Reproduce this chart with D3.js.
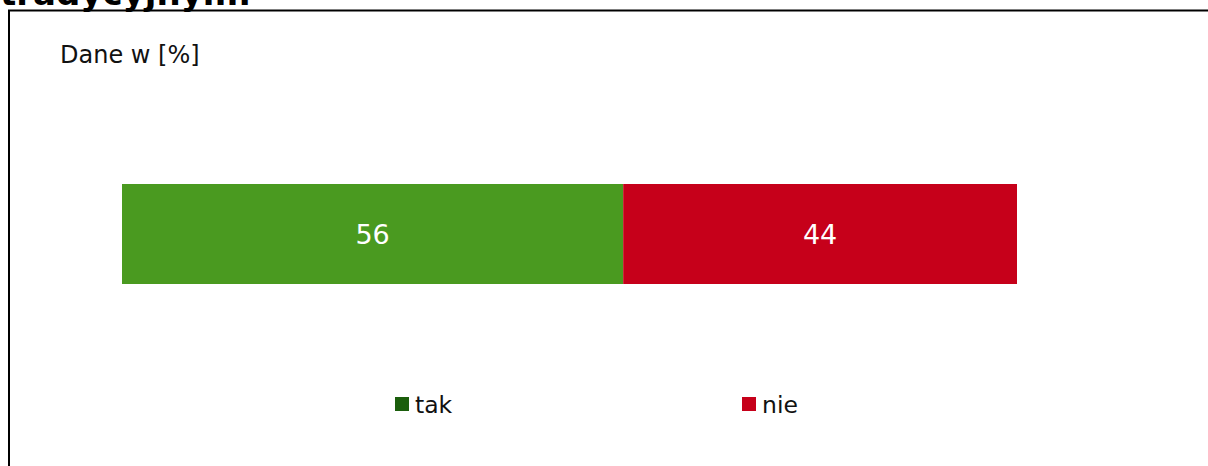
<!DOCTYPE html>
<html>
<head>
<meta charset="utf-8">
<script src="https://cdn.jsdelivr.net/npm/d3@7"></script>
<style>
  body { margin: 0; background: #fff; }
  svg { display: block; font-family: "DejaVu Sans", Verdana, sans-serif; }
</style>
</head>
<body>
<div id="chart"></div>
<script>
const width = 1208;
const height = 466;

const titleText = "tradycyjnym.";
const unitText = "Dane w [%]";
const categories = ["tak", "nie"];
const values = [56, 44];
const barColors = ["#4a9a20", "#c6001a"];
const legendColors = ["#1b5e0c", "#c6001a"];

const svg = d3.select("#chart").append("svg")
    .attr("width", width)
    .attr("height", height);

// title, cut at the top like in the source
svg.append("text")
    .attr("x", 0)
    .attr("y", 5)
    .attr("font-size", "34px")
    .attr("font-weight", "bold")
    .attr("fill", "#000")
    .text(titleText);

// frame
svg.append("rect")
    .attr("x", 9)
    .attr("y", 10.5)
    .attr("width", width + 20)
    .attr("height", height + 20)
    .attr("fill", "none")
    .attr("stroke", "#000")
    .attr("stroke-width", 2);

svg.append("text")
    .attr("x", 60)
    .attr("y", 63)
    .attr("font-size", "24px")
    .attr("fill", "#111")
    .text(unitText);

const x = d3.scaleLinear()
    .domain([0, d3.sum(values)])
    .range([122, 1017]);

const stacked = [];
let acc = 0;
values.forEach((v, i) => {
    stacked.push({ cat: categories[i], v: v, x0: acc, x1: acc + v, i: i });
    acc += v;
});

const barY = 184;
const barH = 100;

svg.selectAll("rect.bar")
    .data(stacked)
    .join("rect")
    .attr("class", "bar")
    .attr("x", d => x(d.x0))
    .attr("y", barY)
    .attr("width", d => x(d.x1) - x(d.x0))
    .attr("height", barH)
    .attr("fill", d => barColors[d.i]);

svg.selectAll("text.val")
    .data(stacked)
    .join("text")
    .attr("class", "val")
    .attr("x", d => (x(d.x0) + x(d.x1)) / 2)
    .attr("y", barY + barH / 2 + 9.5)
    .attr("text-anchor", "middle")
    .attr("font-size", "27px")
    .attr("fill", "#fff")
    .text(d => d.v);

// legend
const legendX = d3.scalePoint()
    .domain(categories)
    .range([395, 742]);

const legend = svg.selectAll("g.legend")
    .data(categories)
    .join("g")
    .attr("class", "legend")
    .attr("transform", d => `translate(${legendX(d)},397)`);

legend.append("rect")
    .attr("width", 14)
    .attr("height", 14)
    .attr("fill", (d, i) => legendColors[i]);

legend.append("text")
    .attr("x", 20)
    .attr("y", 16)
    .attr("font-size", "23.5px")
    .attr("fill", "#111")
    .text(d => d);
</script>
</body>
</html>
